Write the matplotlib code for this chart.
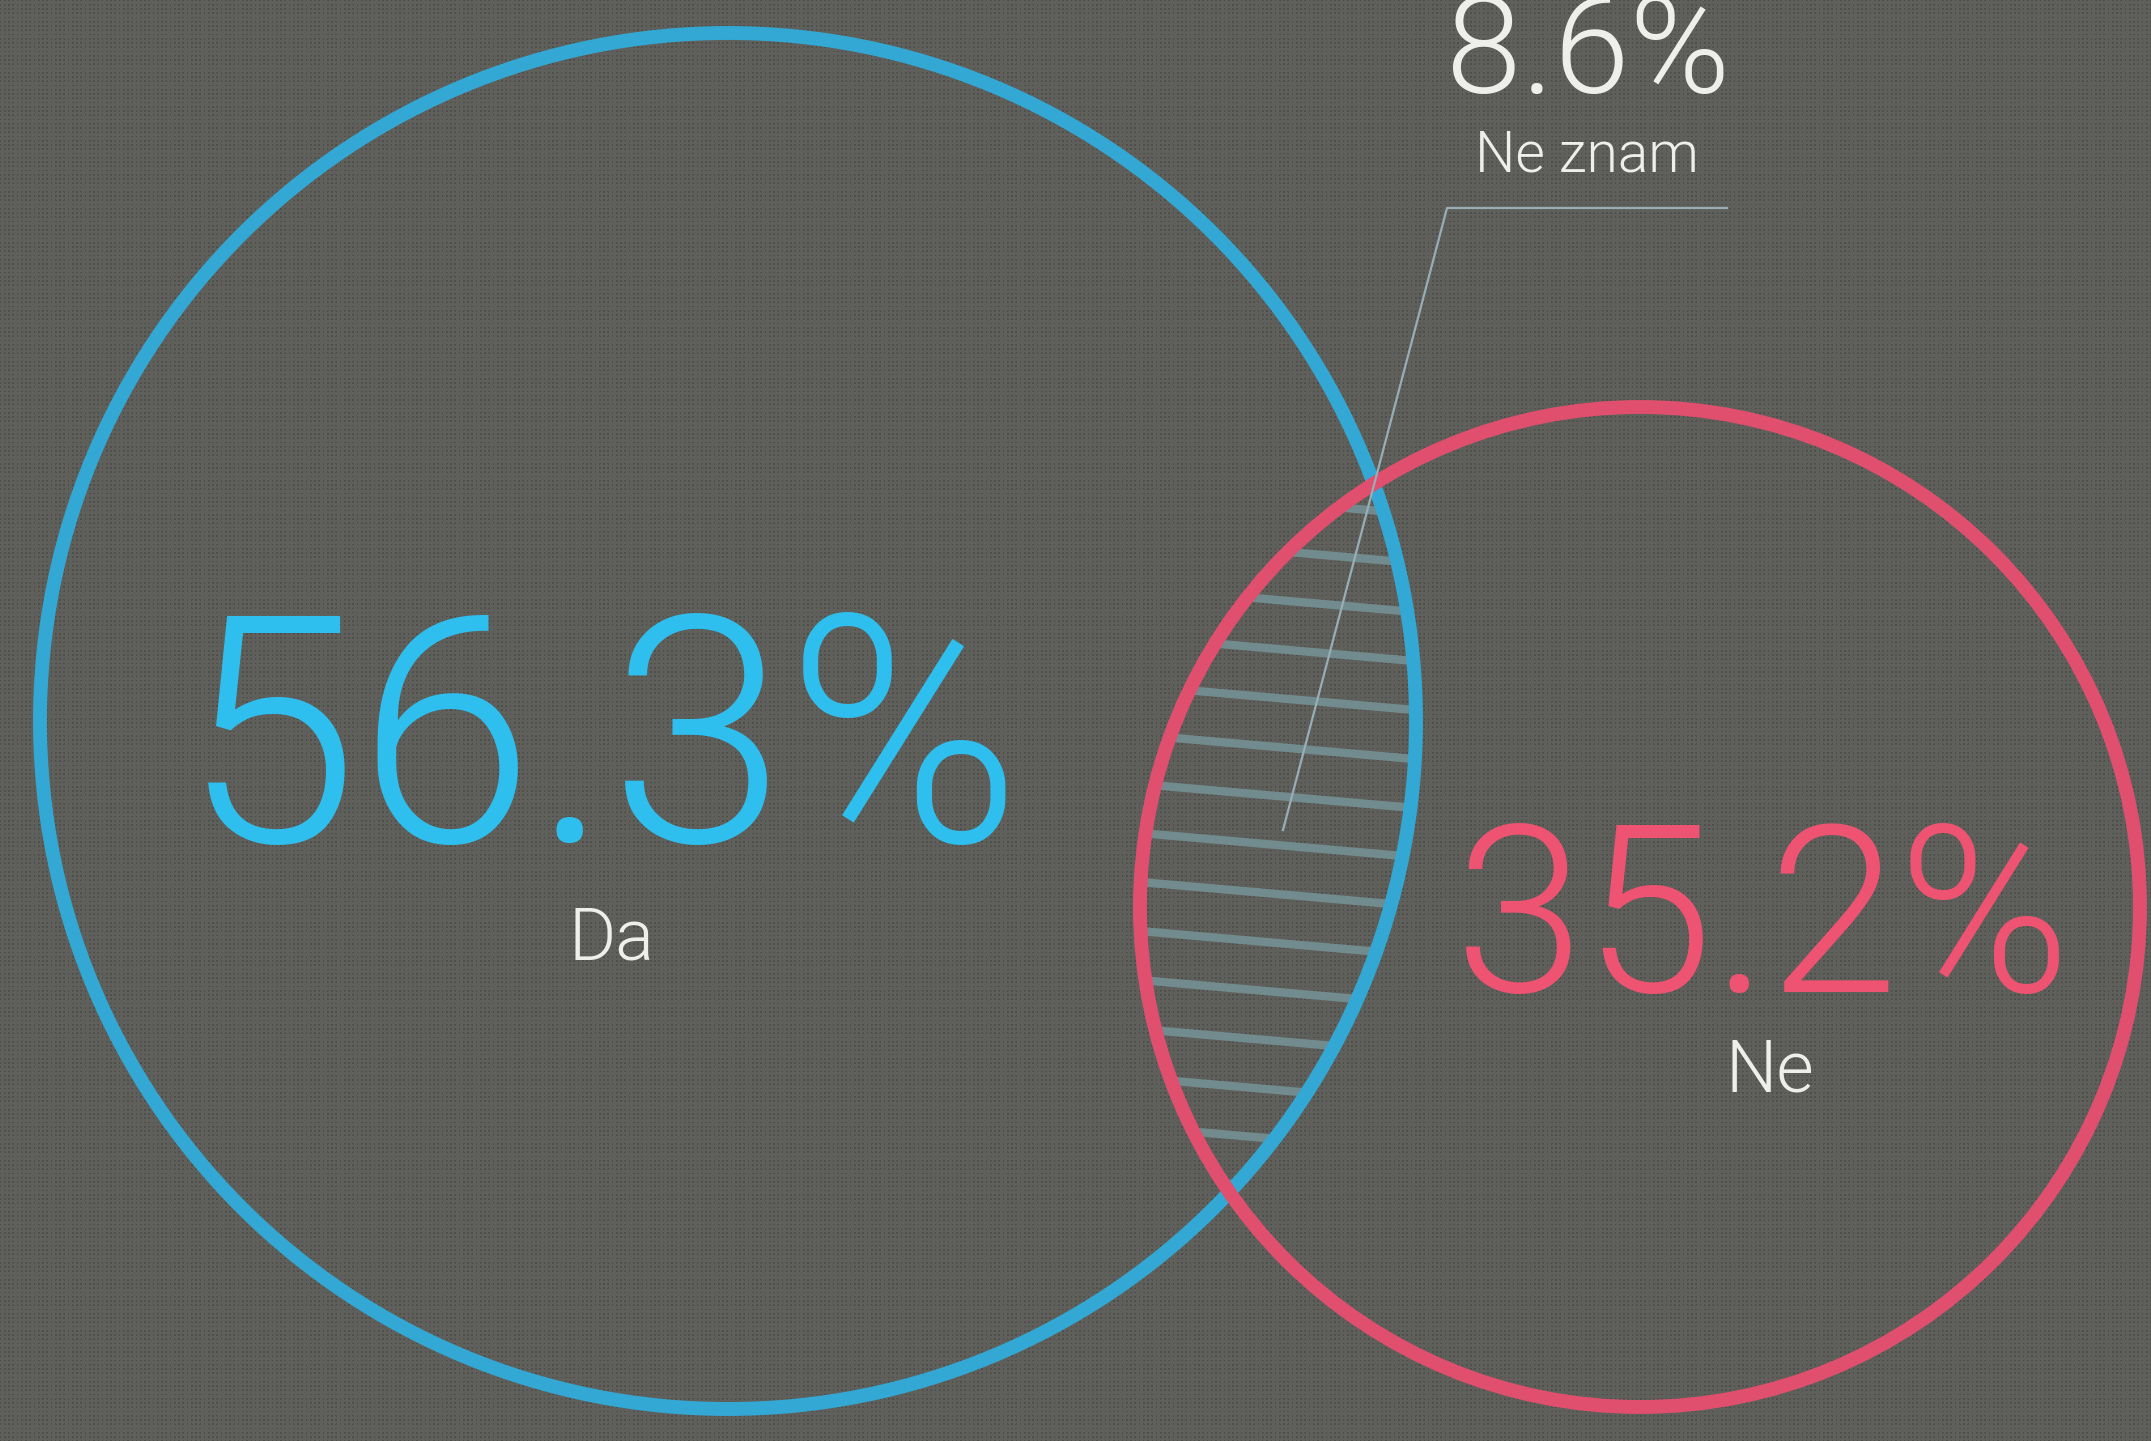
import numpy as np
import matplotlib
matplotlib.use("Agg")
import matplotlib.pyplot as plt
from matplotlib import font_manager
from matplotlib.font_manager import FontProperties
from matplotlib.patches import Circle


# ========================================
# DATA
# ========================================
labels = ["Da", "Ne", "Ne znam"]
values = [56.3, 35.2, 8.6]

# ========================================
# STYLE
# ========================================
BG = "#5b5c57"
BLUE_LINE = "#33a8d4"
BLUE_TEXT = "#2fbfee"
RED_LINE = "#e04f6d"
RED_TEXT = "#ee5371"
WHITE = "#eeeeea"
HATCH = "#728b8f"
LEADER = "#98adb6"

W, H = 2151, 1441


# ========================================
# FONT: look for a light (300) sans weight
# ========================================
def weight_of(f):
    if isinstance(f.weight, int):
        return f.weight
    return font_manager.weight_dict.get(f.weight, 400)


def light_font():
    for fam in ["Roboto", "Open Sans", "Lato", "Noto Sans", "Inter"]:
        for f in font_manager.fontManager.ttflist:
            if f.style != "normal":
                continue
            if (f.name == fam and weight_of(f) == 300) or f.name == fam + " Light":
                return f.fname
    return None


LIGHT = light_font()


def fp(size):
    if LIGHT:
        return FontProperties(fname=LIGHT, size=size)
    return FontProperties(family="Roboto", size=size)


# circle geometry in pixel units (y grows downward)
c_da = np.array([728.0, 721.0])
r_da = 688.0
c_ne = np.array([1640.0, 907.0])
r_ne = 500.0

fig = plt.figure(figsize=(W / 100, H / 100), dpi=100)
fig.patch.set_facecolor(BG)
ax = fig.add_axes([0, 0, 1, 1])
ax.set_facecolor(BG)
ax.set_xlim(0, W)
ax.set_ylim(H, 0)
ax.set_aspect("equal")
ax.axis("off")

# halftone-like paper texture behind everything
yy, xx = np.mgrid[0:H, 0:W]
dots = (np.cos(2 * np.pi * (xx + yy) / 8.5) * np.cos(2 * np.pi * (xx - yy) / 8.5)) > 0.55
tex = np.ones((H, W, 3)) * np.array([95, 96, 91]) / 255
tex[dots] = np.array([78, 79, 75]) / 255
ax.imshow(tex, extent=(0, W, H, 0), zorder=0, interpolation="nearest")


# ========================================
# HATCHING IN THE OVERLAP
# ========================================
def chord(q, u, c, r):
    # parameter interval of line q + s*u inside circle (c, r)
    d = q - c
    b = np.dot(u, d)
    cc = np.dot(d, d) - r ** 2
    disc = b * b - cc
    if disc <= 0:
        return None
    s = np.sqrt(disc)
    return -b - s, -b + s


tilt = np.deg2rad(5)
u = np.array([np.cos(tilt), np.sin(tilt)])
for y0 in np.arange(455, 1250, 49):
    q = np.array([1300.0, y0])
    a1 = chord(q, u, c_da, r_da)
    a2 = chord(q, u, c_ne, r_ne)
    if a1 is None or a2 is None:
        continue
    lo = max(a1[0], a2[0])
    hi = min(a1[1], a2[1])
    if hi <= lo:
        continue
    p0 = q + lo * u
    p1 = q + hi * u
    ax.plot([p0[0], p1[0]], [p0[1], p1[1]],
            color=HATCH, lw=6, solid_capstyle="butt", zorder=2)


# ========================================
# CIRCLES
# ========================================
ax.add_patch(Circle(c_da, r_da, fill=False, ec=BLUE_LINE, lw=10, zorder=3))
ax.add_patch(Circle(c_ne, r_ne, fill=False, ec=RED_LINE, lw=10, zorder=3))


# ========================================
# LEADER LINE FOR "NE ZNAM"
# ========================================
ax.plot([1283, 1447, 1727], [830, 208, 208],
        color=LEADER, lw=1.6, zorder=4)


# ========================================
# LABELS
# ========================================
ax.text(602, 842, f"{values[0]}%", color=BLUE_TEXT, fontproperties=fp(229),
        ha="center", va="baseline", zorder=5)
ax.text(611, 960, labels[0], color=WHITE, fontproperties=fp(52),
        ha="center", va="baseline", zorder=5)

ax.text(1763, 992, f"{values[1]}%", color=RED_TEXT, fontproperties=fp(168),
        ha="center", va="baseline", zorder=5)
ax.text(1770, 1091, labels[1], color=WHITE, fontproperties=fp(52),
        ha="center", va="baseline", zorder=5)

ax.text(1588, 93, f"{values[2]}%", color=WHITE, fontproperties=fp(98),
        ha="center", va="baseline", zorder=5)
ax.text(1587, 172, labels[2], color=WHITE, fontproperties=fp(41),
        ha="center", va="baseline", zorder=5)

fig.savefig("out.png", dpi=100, facecolor=BG)
